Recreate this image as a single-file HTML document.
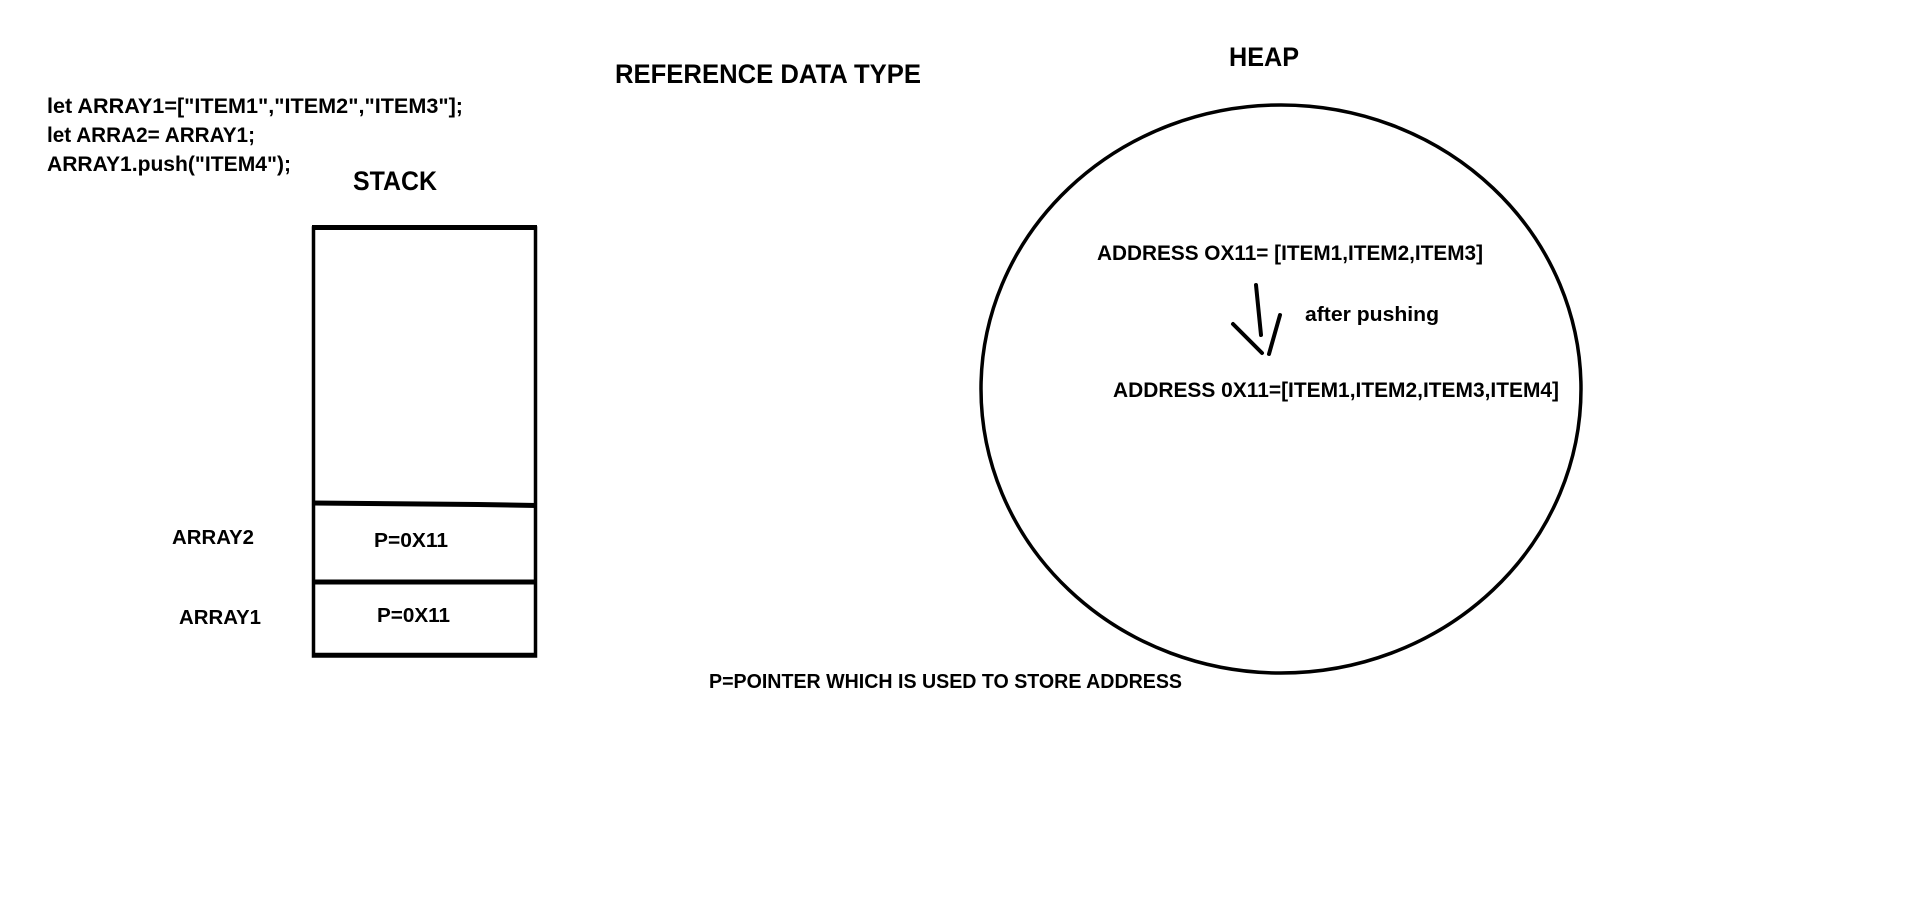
<!DOCTYPE html>
<html><head><meta charset="utf-8"><style>
html,body{margin:0;padding:0;background:#fff;width:1914px;height:912px;overflow:hidden}
svg{display:block}
text{font-family:"Liberation Sans",sans-serif;font-weight:bold;fill:#000}
</style></head><body>
<svg width="1914" height="912" viewBox="0 0 1914 912" xmlns="http://www.w3.org/2000/svg">
<text x="615" y="83" font-size="27" textLength="306" lengthAdjust="spacingAndGlyphs">REFERENCE DATA TYPE</text>
<text x="47" y="113" font-size="21" textLength="416" lengthAdjust="spacingAndGlyphs">let ARRAY1=["ITEM1","ITEM2","ITEM3"];</text>
<text x="47" y="142" font-size="21" textLength="208" lengthAdjust="spacingAndGlyphs">let ARRA2= ARRAY1;</text>
<text x="47" y="171" font-size="21" textLength="244" lengthAdjust="spacingAndGlyphs">ARRAY1.push("ITEM4");</text>
<text x="353" y="190" font-size="27" textLength="84" lengthAdjust="spacingAndGlyphs">STACK</text>
<text x="1229" y="66" font-size="27" textLength="70" lengthAdjust="spacingAndGlyphs">HEAP</text>

<g stroke="#000" fill="none">
<rect x="313.5" y="228" width="222" height="428" stroke-width="3.5"/>
<line x1="312" y1="227.5" x2="537" y2="227.5" stroke-width="5"/>
<path d="M312 503 L368 503.5 L478 504.5 L537 505.5" stroke-width="5"/>
<line x1="312" y1="582" x2="537" y2="582" stroke-width="5"/>
<line x1="312" y1="655" x2="537" y2="655" stroke-width="4.5"/>
<ellipse cx="1281" cy="389" rx="300" ry="284" stroke-width="3.5"/>
<g stroke-width="4" stroke-linecap="round">
<line x1="1256" y1="285" x2="1261" y2="335"/>
<line x1="1233" y1="324" x2="1262" y2="353"/>
<line x1="1280" y1="315" x2="1269" y2="354"/>
</g>
</g>

<text x="172" y="544" font-size="20" textLength="82" lengthAdjust="spacingAndGlyphs">ARRAY2</text>
<text x="374" y="547" font-size="20" textLength="74" lengthAdjust="spacingAndGlyphs">P=0X11</text>
<text x="179" y="624" font-size="20" textLength="82" lengthAdjust="spacingAndGlyphs">ARRAY1</text>
<text x="377" y="622" font-size="20" textLength="73" lengthAdjust="spacingAndGlyphs">P=0X11</text>
<text x="709" y="688" font-size="20" textLength="473" lengthAdjust="spacingAndGlyphs">P=POINTER WHICH IS USED TO STORE ADDRESS</text>

<text x="1097" y="260" font-size="21" textLength="386" lengthAdjust="spacingAndGlyphs">ADDRESS OX11= [ITEM1,ITEM2,ITEM3]</text>
<text x="1305" y="321" font-size="20" textLength="134" lengthAdjust="spacingAndGlyphs">after pushing</text>
<text x="1113" y="397" font-size="21" textLength="446" lengthAdjust="spacingAndGlyphs">ADDRESS 0X11=[ITEM1,ITEM2,ITEM3,ITEM4]</text>
</svg>
</body></html>
